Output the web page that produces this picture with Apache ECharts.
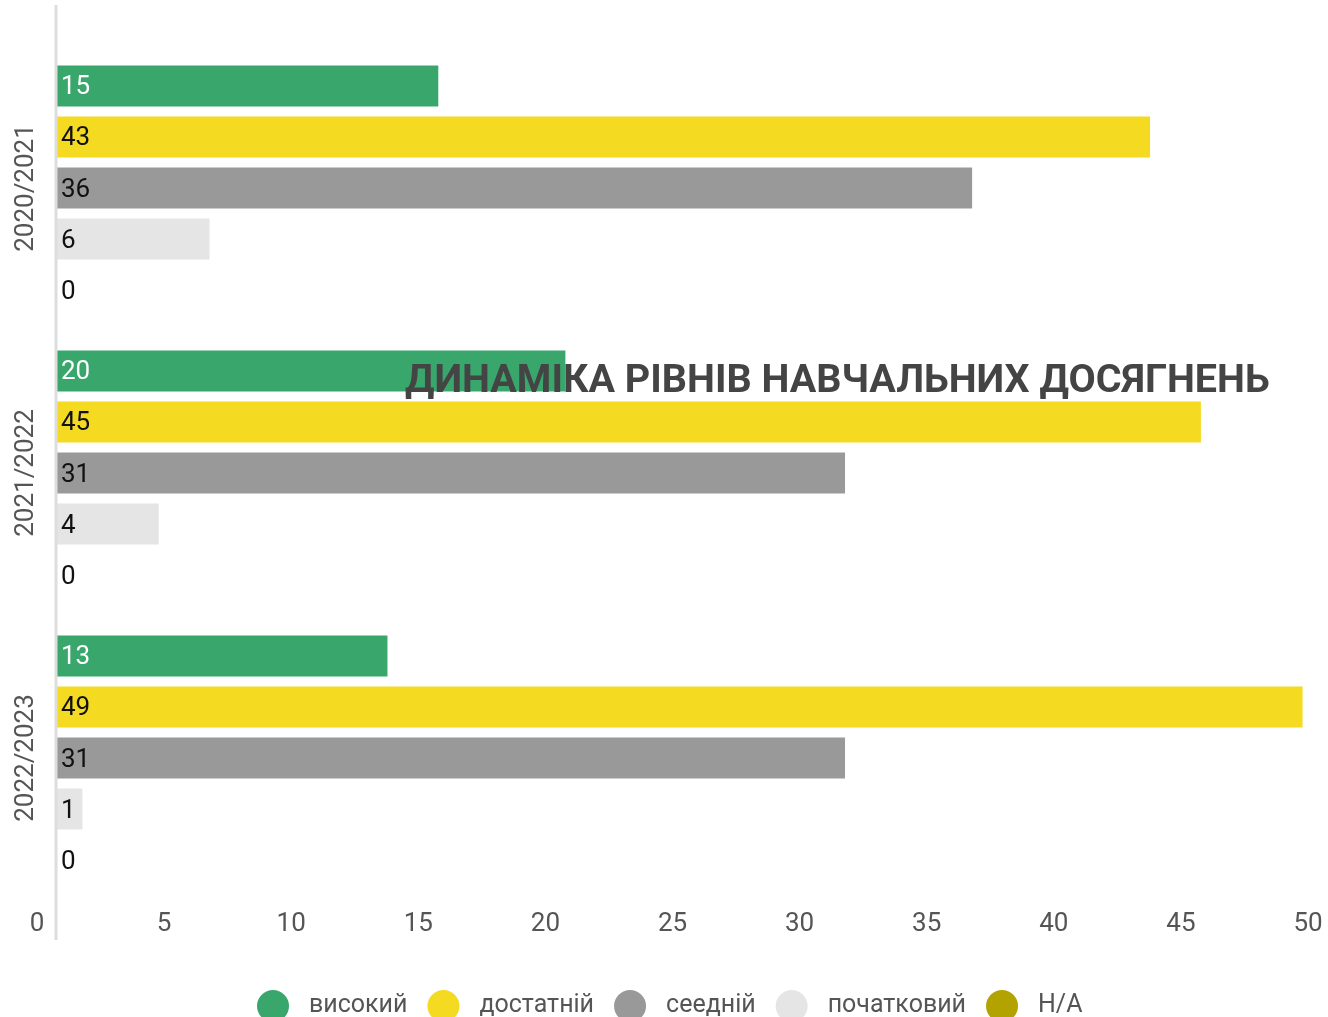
<!DOCTYPE html>
<html>
<head>
<meta charset="utf-8">
<script src="https://cdn.jsdelivr.net/npm/echarts@6/dist/echarts.min.js"></script>
<style>html,body{margin:0;padding:0;background:#fff}#c{width:1328px;height:1017px}</style>
</head>
<body>
<div id="c"></div>
<script>
const categories = ['2020/2021', '2021/2022', '2022/2023'];
const seriesNames = ['високий', 'достатній', 'сеедній', 'початковий', 'Н/А'];
const high = [15, 20, 13];
const sufficient = [43, 45, 49];
const medium = [36, 31, 31];
const initial = [6, 4, 1];
const na = [0, 0, 0];
const xTicks = [0, 5, 10, 15, 20, 25, 30, 35, 40, 45, 50];
const titleText = 'ДИНАМІКА РІВНІВ НАВЧАЛЬНИХ ДОСЯГНЕНЬ';

const colors = ['#39a76c', '#f4da21', '#999999', '#e5e5e5', '#b3a300'];
const labelColors = ['#ffffff', '#111111', '#111111', '#111111', '#111111'];
const values = [high, sufficient, medium, initial, na];

const chart = echarts.init(document.getElementById('c'));
const FONT = 'Roboto';
chart.setOption({
  animation: false,
  textStyle: { fontFamily: FONT },
  title: {
    text: titleText,
    left: 400, top: 357,
    textStyle: { fontFamily: FONT, fontSize: 39.5, fontWeight: 'bold', color: '#444444' }
  },
  legend: {
    data: seriesNames,
    left: 252, top: 985,
    icon: 'circle',
    itemWidth: 32, itemHeight: 32,
    itemGap: 20,
    textStyle: { fontFamily: FONT, fontSize: 25, color: '#555555', padding: [0, 0, 0, 15] }
  },
  grid: { left: 57, top: 45.5, right: 0, height: 855, containLabel: false },
  xAxis: {
    type: 'value', min: 0, max: 50, interval: 5,
    axisLine: { show: false }, axisTick: { show: false },
    splitLine: { show: false },
    axisLabel: {
      fontFamily: FONT, fontSize: 26, color: '#555555', margin: 11,
      padding: [0, 40, 0, 0],
      customValues: xTicks
    }
  },
  yAxis: {
    type: 'category', data: categories, inverse: true,
    axisLine: { show: false }, axisTick: { show: false },
    axisLabel: { rotate: 90, fontFamily: FONT, fontSize: 26, color: '#555555', margin: 18 }
  },
  graphic: [{
    type: 'line', shape: { x1: 56, y1: 5, x2: 56, y2: 940 },
    style: { stroke: '#dddddd', lineWidth: 3 }, z: 10
  }],
  series: seriesNames.map((name, i) => ({
    name, type: 'bar', data: values[i],
    barWidth: 41, barGap: '24.4%', barCategoryGap: '14%',
    itemStyle: { color: colors[i] },
    label: {
      show: true, position: 'insideLeft', distance: 4, offset: [0, 2],
      fontFamily: FONT, fontSize: 26, color: labelColors[i]
    }
  }))
});
</script>
</body>
</html>
